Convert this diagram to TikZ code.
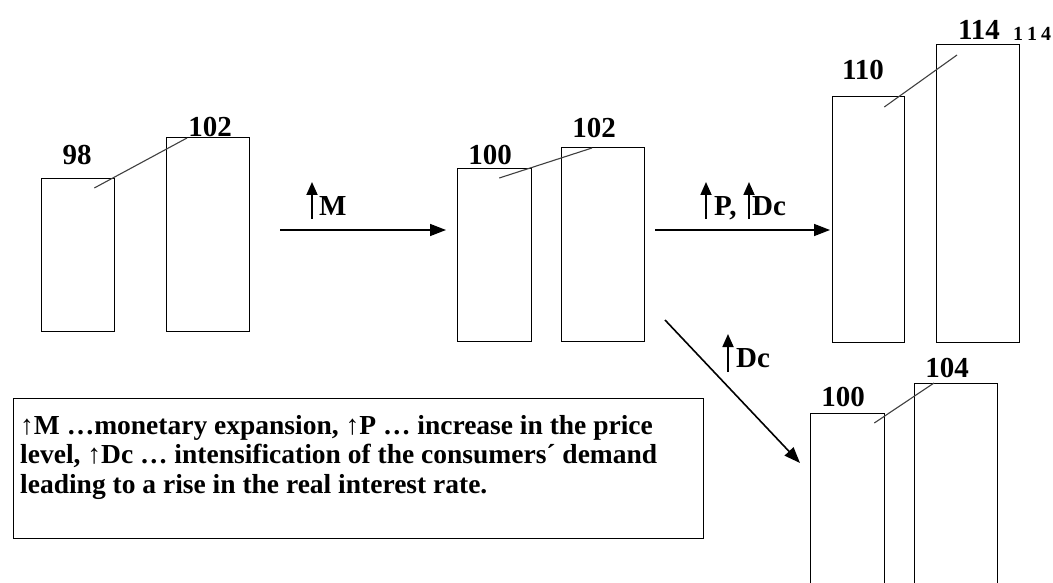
\documentclass[tikz,border=0pt]{standalone}
\usepackage{fontspec}
\setmainfont{Liberation Serif}
\usetikzlibrary{arrows.meta, positioning, calc}

\begin{document}
\begin{tikzpicture}[
  x=1pt, y=-1pt,
  bar/.style={draw, line width=1.3pt, inner sep=0pt, anchor=north west},
  val/.style={font=\bfseries\fontsize{29}{30}\selectfont, inner sep=0pt},
  lbl/.style={font=\bfseries\fontsize{29}{30}\selectfont, inner sep=0pt, anchor=base west},
  lead/.style={line width=1.1pt, black!75},
  arr/.style={-{Triangle[length=16pt, width=12pt]}, line width=1.6pt},
  uparr/.style={-{Triangle[length=13pt, width=11pt]}, line width=1.8pt},
  legbox/.style={draw, line width=1.3pt, anchor=north west, inner sep=0pt, minimum width=690pt, minimum height=140pt},
  legtxt/.style={font=\bfseries\fontsize{27.5}{29.5}\selectfont, align=left, inner sep=0pt, anchor=north west}
]
\clip (0,0) rectangle (1053,583);
\fill[white] (0,0) rectangle (1053,583);

% starting state
\node[bar, minimum width=73pt, minimum height=153pt] (a1) at (41,178) {};
\node[bar, minimum width=83pt, minimum height=194pt] (a2) at (166,137) {};
\node[val] (va1) at (77,155) {98};
\node[val] (va2) at (210,127) {102};
\draw[lead] ($(a1.north east)+(-21,10)$) -- ($(a2.north west)+(21,1)$);

% after monetary expansion
\node[bar, minimum width=74pt, minimum height=173pt] (c1) at (457,168) {};
\node[bar, minimum width=83pt, minimum height=194pt] (c2) at (561,147) {};
\node[val] (vc1) at (490,155) {100};
\node[val] (vc2) at (594,128) {102};
\draw[lead] ($(c1.north east)+(-33,10)$) -- ($(c2.north west)+(31,1)$);

% price level path
\node[bar, minimum width=72pt, minimum height=246pt] (e1) at (832,96) {};
\node[bar, minimum width=83pt, minimum height=298pt] (e2) at (936,44) {};
\node[val] (ve1) at (863,70) {110};
\node[val] (ve2) at (979,30) {114};
\node[font=\bfseries\fontsize{20}{21}\selectfont, inner sep=0pt, anchor=base west] (ve3) at (1013,41) {1\hspace{4pt}1\hspace{4pt}4};
\draw[lead] ($(e1.north east)+(-21,11)$) -- ($(e2.north west)+(21,11)$);

% demand path
\node[bar, minimum width=74pt, minimum height=200pt] (g1) at (810,413) {};
\node[bar, minimum width=83pt, minimum height=230pt] (g2) at (914,383) {};
\node[val] (vg1) at (843,397) {100};
\node[val] (vg2) at (947,368) {104};
\draw[lead] ($(g1.north east)+(-11,10)$) -- ($(g2.north west)+(20,0)$);

% transitions
\coordinate (m0) at (280,230);
\draw[arr, shorten >=11pt] (m0) -- (m0 -| c1.west);
\node[lbl] (lm) at (319,215) {M};
\draw[uparr] ($(lm.base west)+(-7,4)$) -- ++(0,-37);

\coordinate (p0) at (655,230);
\draw[arr, shorten >=2pt] (p0) -- (p0 -| e1.west);
\node[lbl] (lp) at (714,215) {P,};
\node[lbl] (ldc) at (752,215) {Dc};
\draw[uparr] ($(lp.base west)+(-8,4)$) -- ++(0,-37);
\draw[uparr] ($(ldc.base west)+(-3,4)$) -- ++(0,-37);

\coordinate (d0) at (665,320);
\coordinate (d1) at (800,463);
\draw[arr] (d0) -- (d1);
\node[lbl] (ldd) at (736,367) {Dc};
\draw[uparr] ($(ldd.base west)+(-8,5)$) -- ++(0,-38);

% legend
\node[legbox] (leg) at (13,398) {};
\node[legtxt] (legt) at ([shift={(7,17)}]leg.north west)
  {↑M …monetary expansion, ↑P … increase in the price\\
   level, ↑Dc … intensification of the consumers´ demand\\
   leading to a rise in the real interest rate.};
\end{tikzpicture}
\end{document}
